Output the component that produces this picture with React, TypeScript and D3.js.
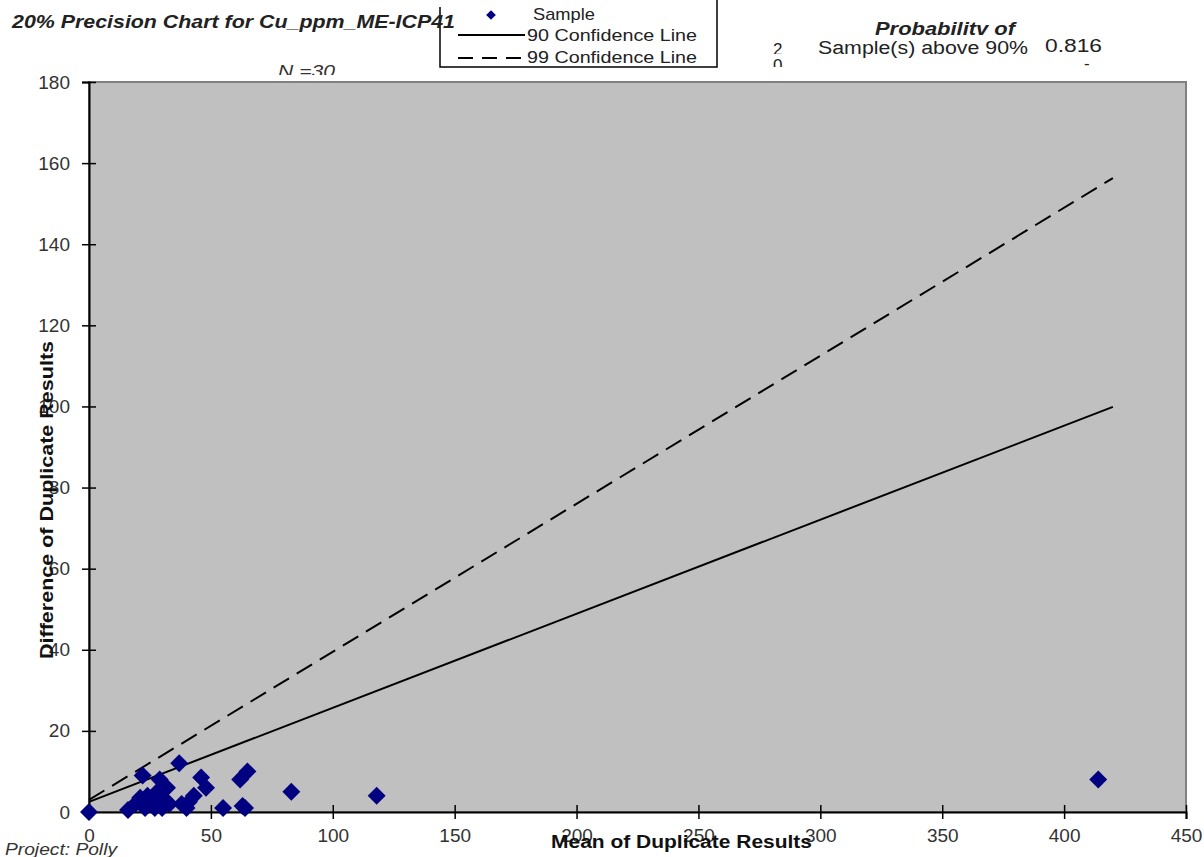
import React from "react";
import * as d3 from "d3";

// duplicate pairs: mean vs difference
const meanValues = [0, 16, 19, 21, 22, 23, 24, 26, 27, 28, 29, 30, 31, 32, 33, 37, 38, 40, 41, 43, 46, 48, 55, 62, 63, 65, 64, 83, 118, 414];
const diffValues = [0, 0.5, 2, 3.5, 9, 1, 4, 2, 1, 5, 8, 1, 3, 6, 2, 12, 2, 1, 2.5, 4, 8.5, 6, 1, 8, 1.5, 10, 1, 5, 4, 8];

const conf90 = [
    { x: 0, y: 2.5 },
    { x: 420, y: 99.9 },
];
const conf99 = [
    { x: 0, y: 3 },
    { x: 420, y: 156.3 },
];

const xTicks = [0, 50, 100, 150, 200, 250, 300, 350, 400, 450];
const yTicks = [0, 20, 40, 60, 80, 100, 120, 140, 160, 180];

export default function App() {
    const ref = React.useRef<SVGSVGElement>(null);

    React.useEffect(() => {
        const svg = d3.select(ref.current);
        svg.selectAll("*").remove();

        const margin = { left: 89, top: 82, right: 1186, bottom: 812 };
        const x = d3.scaleLinear().domain([0, 450]).range([margin.left, margin.right]);
        const y = d3.scaleLinear().domain([0, 180]).range([margin.bottom, margin.top]);

        const font = "'Liberation Sans', Arial, sans-serif";
        const defs = svg.append("defs");

        // clip helper: the source cuts some labels at cell edges
        function clip(id: string, x0: number, y0: number, w: number, h: number) {
            defs.append("clipPath").attr("id", id).append("rect").attr("x", x0).attr("y", y0).attr("width", w).attr("height", h);
            return `url(#${id})`;
        }

        // plot area
        svg.append("rect")
            .attr("x", margin.left)
            .attr("y", margin.top)
            .attr("width", margin.right - margin.left)
            .attr("height", margin.bottom - margin.top)
            .attr("fill", "#c0c0c0")
            .attr("stroke", "#808080")
            .attr("stroke-width", 2);

        // axes
        const yAxis = svg
            .append("g")
            .attr("transform", `translate(${margin.left},0)`)
            .call(d3.axisLeft(y).tickValues(yTicks).tickSize(7).tickPadding(12));
        yAxis.select(".domain").attr("stroke", "#000").attr("stroke-width", 2);
        yAxis.selectAll(".tick line").attr("x1", 7).attr("x2", -7).attr("stroke", "#000").attr("stroke-width", 1.5);
        yAxis.selectAll(".tick text").attr("x", -19).attr("font-size", 19).attr("font-family", font).attr("fill", "#333");

        const xAxis = svg
            .append("g")
            .attr("transform", `translate(0,${margin.bottom})`)
            .call(d3.axisBottom(x).tickValues(xTicks).tickSize(7).tickPadding(10));
        xAxis.select(".domain").attr("stroke", "#000").attr("stroke-width", 2);
        xAxis.selectAll(".tick line").attr("y1", -7).attr("y2", 7).attr("stroke", "#000").attr("stroke-width", 1.5);
        xAxis.selectAll(".tick text").attr("font-size", 19).attr("font-family", font).attr("fill", "#333");

        // confidence lines
        const line = d3
            .line<{ x: number; y: number }>()
            .x((d) => x(d.x))
            .y((d) => y(d.y));
        svg.append("path")
            .datum(conf90)
            .attr("d", line)
            .attr("fill", "none")
            .attr("stroke", "#000")
            .attr("stroke-width", 2);
        svg.append("path")
            .datum(conf99)
            .attr("d", line)
            .attr("fill", "none")
            .attr("stroke", "#000")
            .attr("stroke-width", 2)
            .attr("stroke-dasharray", "18,9");

        // samples
        const diamond = d3.symbol().type(d3.symbolDiamond2).size(205);
        svg.append("g")
            .selectAll("path")
            .data(meanValues)
            .join("path")
            .attr("d", diamond)
            .attr("transform", (d, i) => `translate(${x(d)},${y(diffValues[i])})`)
            .attr("fill", "#000080");

        // legend (no fill, the title runs under it)
        const lg = svg.append("g").attr("font-family", font).attr("font-size", 17).attr("fill", "#222");
        lg.append("path")
            .attr("d", "M440,7 L440,67 L717,67 L717,0")
            .attr("fill", "none")
            .attr("stroke", "#000")
            .attr("stroke-width", 1.5);
        lg.append("path")
            .attr("d", d3.symbol().type(d3.symbolDiamond2).size(60))
            .attr("transform", "translate(491,15)")
            .attr("fill", "#000080");
        lg.append("text").attr("x", 533).attr("y", 20).attr("textLength", 62).attr("lengthAdjust", "spacingAndGlyphs").text("Sample");
        lg.append("line").attr("x1", 458).attr("x2", 525).attr("y1", 35).attr("y2", 35).attr("stroke", "#000").attr("stroke-width", 2);
        lg.append("text").attr("x", 527).attr("y", 41).attr("textLength", 170).attr("lengthAdjust", "spacingAndGlyphs").text("90 Confidence  Line");
        lg.append("line")
            .attr("x1", 458)
            .attr("x2", 525)
            .attr("y1", 58)
            .attr("y2", 58)
            .attr("stroke", "#000")
            .attr("stroke-width", 2)
            .attr("stroke-dasharray", "15,9");
        lg.append("text").attr("x", 527).attr("y", 63).attr("textLength", 170).attr("lengthAdjust", "spacingAndGlyphs").text("99 Confidence  Line");

        // titles
        svg.append("text")
            .attr("x", 12)
            .attr("y", 28)
            .attr("font-family", font)
            .attr("font-size", 18)
            .attr("font-weight", "bold")
            .attr("font-style", "italic")
            .attr("fill", "#222")
            .attr("textLength", 443)
            .attr("lengthAdjust", "spacingAndGlyphs")
            .text("20% Precision Chart for Cu_ppm_ME-ICP41");
        svg.append("text")
            .attr("x", 278)
            .attr("y", 77)
            .attr("font-family", font)
            .attr("font-size", 16)
            .attr("font-style", "italic")
            .attr("fill", "#333")
            .attr("textLength", 57)
            .attr("lengthAdjust", "spacingAndGlyphs")
            .attr("clip-path", clip("clipN", 270, 55, 80, 20))
            .text("N =30");

        svg.append("text")
            .attr("transform", "translate(53,500) rotate(-90)")
            .attr("text-anchor", "middle")
            .attr("font-family", font)
            .attr("font-size", 18)
            .attr("font-weight", "bold")
            .attr("fill", "#111")
            .attr("textLength", 318)
            .attr("lengthAdjust", "spacingAndGlyphs")
            .text("Difference of Duplicate Results");
        svg.append("text")
            .attr("x", 551)
            .attr("y", 848)
            .attr("font-family", font)
            .attr("font-size", 18)
            .attr("font-weight", "bold")
            .attr("fill", "#111")
            .attr("textLength", 261)
            .attr("lengthAdjust", "spacingAndGlyphs")
            .text("Mean of Duplicate Results");
        svg.append("text")
            .attr("x", 5)
            .attr("y", 855)
            .attr("font-family", font)
            .attr("font-size", 17)
            .attr("font-style", "italic")
            .attr("fill", "#333")
            .attr("textLength", 112)
            .attr("lengthAdjust", "spacingAndGlyphs")
            .text("Project: Polly");

        // probability block
        const pb = svg.append("g").attr("font-family", font).attr("fill", "#222");
        pb.append("text")
            .attr("x", 875)
            .attr("y", 35)
            .attr("font-size", 18)
            .attr("font-weight", "bold")
            .attr("font-style", "italic")
            .attr("textLength", 140)
            .attr("lengthAdjust", "spacingAndGlyphs")
            .attr("clip-path", clip("clipP", 860, 10, 170, 26))
            .text("Probabilitv of");
        pb.append("text")
            .attr("x", 773)
            .attr("y", 55)
            .attr("font-size", 17)
            .attr("clip-path", clip("clip2", 765, 38, 25, 16))
            .text("2");
        pb.append("text")
            .attr("x", 818)
            .attr("y", 54)
            .attr("font-size", 18)
            .attr("textLength", 210)
            .attr("lengthAdjust", "spacingAndGlyphs")
            .text("Sample(s) above 90%");
        pb.append("text")
            .attr("x", 1045)
            .attr("y", 52)
            .attr("font-size", 18)
            .attr("textLength", 57)
            .attr("lengthAdjust", "spacingAndGlyphs")
            .text("0.816");
        pb.append("text")
            .attr("x", 773)
            .attr("y", 71)
            .attr("font-size", 17)
            .attr("clip-path", clip("clip0", 765, 56, 25, 11))
            .text("0");
        pb.append("text").attr("x", 1084).attr("y", 69).attr("font-size", 17).text("-");
    }, []);

    return (
        <svg
            ref={ref}
            width={1204}
            height={857}
            style={{ position: "absolute", left: 0, top: 0, background: "#fff" }}
        />
    );
}
